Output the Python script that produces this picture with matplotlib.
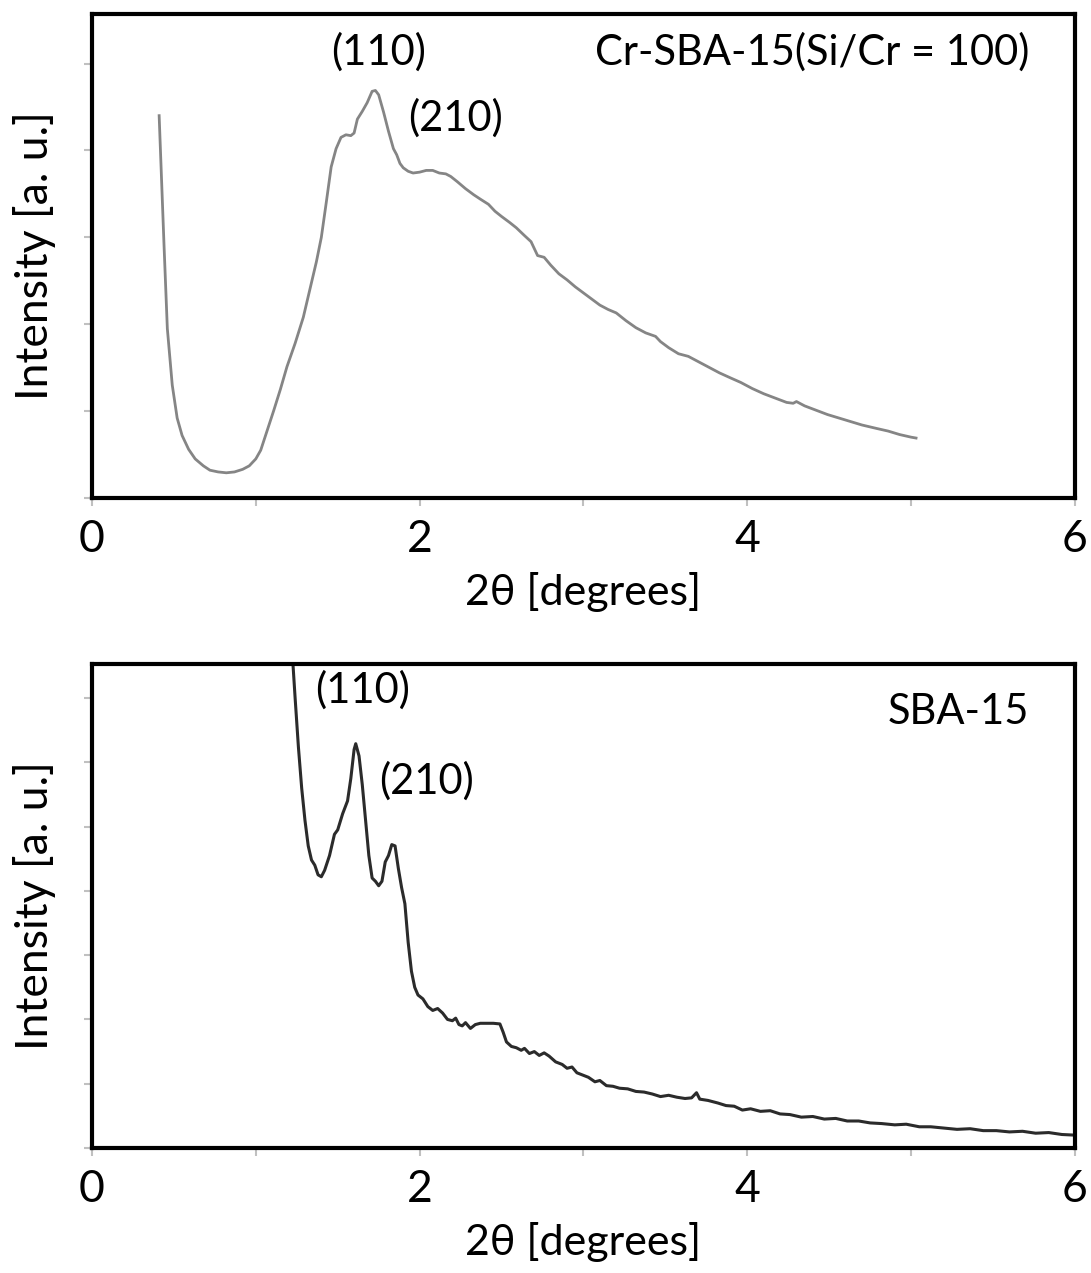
import numpy as np
import matplotlib
matplotlib.use('Agg')
import matplotlib.pyplot as plt
from matplotlib.ticker import MultipleLocator

plt.rcParams['font.family'] = ['Lato', 'DejaVu Sans']

# Cr-SBA-15 (Si/Cr = 100)
cr_x = [0.41, 0.42, 0.44, 0.46, 0.49, 0.52, 0.55, 0.59, 0.63, 0.68, 0.72, 0.77, 0.82, 0.87,
        0.92, 0.96, 1.00, 1.03, 1.07, 1.11, 1.15, 1.19, 1.24, 1.29, 1.33, 1.37, 1.40, 1.43,
        1.46, 1.49, 1.52, 1.55, 1.58, 1.60, 1.62, 1.65, 1.68, 1.71, 1.73, 1.75, 1.78, 1.81,
        1.84, 1.86, 1.88, 1.90, 1.93, 1.96, 2.00, 2.04, 2.08, 2.12, 2.16, 2.19, 2.23, 2.28,
        2.33, 2.37, 2.42, 2.46, 2.50, 2.55, 2.59, 2.64, 2.68, 2.72, 2.76, 2.80, 2.85, 2.90,
        2.95, 3.00, 3.05, 3.10, 3.15, 3.20, 3.26, 3.32, 3.38, 3.44, 3.47, 3.52, 3.58, 3.64,
        3.69, 3.76, 3.83, 3.90, 3.96, 4.03, 4.10, 4.17, 4.24, 4.28, 4.30, 4.35, 4.42, 4.49,
        4.56, 4.63, 4.70, 4.79, 4.86, 4.93, 5.00, 5.03]
cr_y = [4.40, 3.90, 2.90, 1.95, 1.30, 0.92, 0.72, 0.56, 0.45, 0.37, 0.32, 0.30, 0.29, 0.30,
        0.33, 0.37, 0.45, 0.55, 0.78, 1.01, 1.25, 1.51, 1.78, 2.08, 2.40, 2.72, 3.00, 3.40,
        3.81, 4.02, 4.15, 4.18, 4.17, 4.20, 4.36, 4.45, 4.55, 4.68, 4.69, 4.64, 4.44, 4.22,
        4.02, 3.95, 3.85, 3.80, 3.76, 3.74, 3.75, 3.77, 3.77, 3.74, 3.73, 3.70, 3.64, 3.56,
        3.49, 3.44, 3.38, 3.30, 3.24, 3.17, 3.11, 3.02, 2.95, 2.79, 2.77, 2.68, 2.58, 2.51,
        2.43, 2.36, 2.29, 2.22, 2.17, 2.13, 2.04, 1.96, 1.90, 1.86, 1.80, 1.73, 1.66, 1.63,
        1.58, 1.51, 1.44, 1.38, 1.33, 1.26, 1.20, 1.15, 1.10, 1.09, 1.11, 1.06, 1.01, 0.96,
        0.92, 0.88, 0.84, 0.80, 0.77, 0.73, 0.70, 0.69]

# SBA-15
sba_x = [1.22, 1.24, 1.26, 1.28, 1.30, 1.32, 1.34, 1.36, 1.38, 1.40, 1.42, 1.45, 1.48, 1.50,
         1.53, 1.56, 1.58, 1.60, 1.61, 1.63, 1.65, 1.67, 1.69, 1.71, 1.73, 1.75, 1.77, 1.79,
         1.81, 1.83, 1.85, 1.87, 1.89, 1.91, 1.93, 1.95, 1.97, 1.99, 2.02, 2.05, 2.08, 2.11,
         2.14, 2.17, 2.20, 2.22, 2.24, 2.26, 2.28, 2.31, 2.34, 2.37, 2.41, 2.45, 2.49, 2.51,
         2.53, 2.56, 2.59, 2.62, 2.64, 2.67, 2.70, 2.73, 2.76, 2.79, 2.83, 2.87, 2.90, 2.93,
         2.96, 3.00, 3.03, 3.07, 3.10, 3.14, 3.18, 3.22, 3.27, 3.32, 3.37, 3.42, 3.47, 3.52,
         3.57, 3.62, 3.66, 3.69, 3.71, 3.76, 3.82, 3.87, 3.92, 3.97, 4.02, 4.08, 4.14, 4.20,
         4.26, 4.33, 4.40, 4.47, 4.54, 4.61, 4.68, 4.75, 4.82, 4.90, 4.97, 5.05, 5.12, 5.20,
         5.28, 5.36, 5.44, 5.52, 5.60, 5.68, 5.76, 5.84, 5.92, 6.00]
sba_y = [7.80, 7.00, 6.24, 5.60, 5.10, 4.70, 4.48, 4.40, 4.25, 4.22, 4.32, 4.55, 4.88, 4.95,
         5.20, 5.40, 5.75, 6.20, 6.29, 6.10, 5.65, 5.10, 4.55, 4.20, 4.15, 4.08, 4.15, 4.45,
         4.55, 4.72, 4.70, 4.35, 4.05, 3.80, 3.20, 2.75, 2.50, 2.38, 2.32, 2.20, 2.14, 2.17,
         2.10, 2.00, 1.98, 2.02, 1.92, 1.90, 1.95, 1.86, 1.92, 1.94, 1.94, 1.94, 1.93, 1.80,
         1.65, 1.58, 1.56, 1.52, 1.55, 1.47, 1.50, 1.44, 1.48, 1.43, 1.34, 1.30, 1.24, 1.26,
         1.17, 1.13, 1.10, 1.03, 1.05, 0.97, 0.96, 0.93, 0.92, 0.88, 0.87, 0.84, 0.80, 0.82,
         0.79, 0.77, 0.78, 0.86, 0.76, 0.74, 0.70, 0.66, 0.65, 0.59, 0.61, 0.57, 0.58, 0.53,
         0.52, 0.48, 0.49, 0.45, 0.46, 0.42, 0.42, 0.39, 0.38, 0.36, 0.37, 0.33, 0.33, 0.31,
         0.29, 0.30, 0.27, 0.27, 0.25, 0.26, 0.23, 0.24, 0.21, 0.20]

x_ticks = [0, 2, 4, 6]

fig = plt.figure(figsize=(10.91, 12.73), dpi=100)
ax1 = fig.add_axes([0.0843, 0.6088, 0.901, 0.3802])
ax2 = fig.add_axes([0.0843, 0.0982, 0.901, 0.3802])


def style_axes(ax, ytop, nyt):
    ax.set_xlim(0, 6)
    ax.set_ylim(0, ytop)
    ax.set_xticks(x_ticks)
    ax.set_xticklabels([str(t) for t in x_ticks])
    ax.xaxis.set_minor_locator(MultipleLocator(1))
    ax.set_yticks(range(nyt + 1))
    ax.set_yticklabels([])
    for s in ax.spines.values():
        s.set_linewidth(3)
        s.set_color('black')
    ax.tick_params(axis='both', which='both', direction='out', color='#c0c0c0',
                   width=1.5, length=6)
    ax.tick_params(axis='x', labelsize=32, pad=9)
    ax.set_xlabel('2θ [degrees]', fontsize=31)
    ax.xaxis.set_label_coords(0.5, -0.195)
    ax.xaxis.label.set_va('center')
    ax.set_ylabel('Intensity [a. u.]', fontsize=32)
    ax.yaxis.set_label_coords(-0.058, 0.5)
    ax.yaxis.label.set_va('center')


ax1.plot(cr_x, cr_y, color='#858585', lw=2)
style_axes(ax1, 5.57, 5)
ax1.text(1.75, 5.13, '(110)', fontsize=30, ha='center', va='center')
ax1.text(2.22, 4.37, '(210)', fontsize=30, ha='center', va='center')
ax1.text(5.72, 5.13, 'Cr-SBA-15(Si/Cr = 100)', fontsize=30, ha='right', va='center')

ax2.plot(sba_x, sba_y, color='#2b2b2b', lw=2.2)
style_axes(ax2, 7.53, 7)
ax2.text(1.65, 7.12, '(110)', fontsize=30, ha='center', va='center')
ax2.text(2.04, 5.71, '(210)', fontsize=30, ha='center', va='center')
ax2.text(5.72, 6.78, 'SBA-15', fontsize=30, ha='right', va='center')

plt.savefig('out.png', dpi=100)
